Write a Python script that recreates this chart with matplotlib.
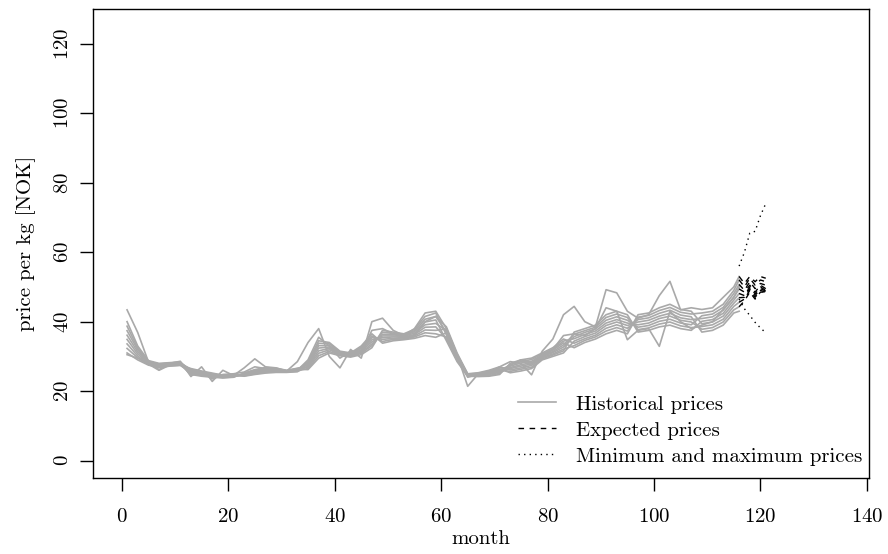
import matplotlib
matplotlib.use("Agg")
import matplotlib.pyplot as plt

plt.rcParams['font.family'] = ['cmr10', 'DejaVu Serif']
plt.rcParams['axes.formatter.use_mathtext'] = True
plt.rcParams['mathtext.fontset'] = 'cm'

# months at which historical prices are read
months = [1, 3, 5, 7, 9, 11, 13, 15, 17, 19, 21, 23, 25, 27, 29, 31, 33, 35, 37, 39,
          41, 43, 45, 47, 49, 51, 53, 55, 57, 59, 61, 63, 65, 67, 69, 71, 73, 75, 77, 79,
          81, 83, 85, 87, 89, 91, 93, 95, 97, 99, 101, 103, 105, 107, 109, 111, 113, 115, 116]

hist_0 = [31.0, 29.0, 27.5, 26.8, 27.2, 27.4, 25.5, 24.9, 24.5, 24.1, 24.3, 24.9, 25.8, 26.3, 26.3, 25.8, 26.3,
          26.2, 29.5, 31.0, 30.2, 29.8, 30.5, 32.5, 37.5, 37.0, 36.5, 37.8, 41.5, 42.5,
          36.2, 29.6, 24.6, 24.7, 25.0, 25.7, 27.2, 28.1, 28.6, 30.4, 31.8, 33.9,
          32.5, 34.0, 35.0, 36.5, 37.5, 36.5, 42.0, 42.5, 44.0, 45.0, 43.5, 43.0, 39.4, 39.9, 41.6, 45.3, 46.9]
hist_1 = [32.3, 29.6, 27.7, 27.0, 27.3, 27.5, 26.5, 25.8, 25.2, 24.6, 24.8, 24.6, 25.2, 25.7, 25.7, 25.6, 25.9,
          26.5, 30.2, 31.4, 30.4, 30.0, 30.9, 33.1, 37.0, 36.6, 36.3, 37.4, 40.7, 41.5,
          38.5, 31.0, 25.0, 25.3, 26.0, 27.0, 26.1, 26.7, 27.4, 29.6, 30.7, 32.1,
          33.1, 34.6, 35.6, 37.3, 38.3, 37.3, 41.3, 41.8, 43.2, 44.1, 42.7, 42.2, 42.5, 43.0, 45.0, 49.0, 52.0]
hist_2 = [33.6, 30.1, 27.9, 27.1, 27.5, 27.7, 24.8, 24.3, 24.0, 23.8, 24.0, 25.2, 26.2, 26.8, 26.6, 26.0, 26.6,
          26.9, 30.9, 31.9, 30.6, 30.1, 31.2, 33.6, 36.4, 36.3, 36.0, 37.1, 39.9, 40.5,
          34.5, 28.5, 24.3, 24.2, 24.3, 24.8, 28.0, 29.0, 29.5, 31.0, 32.5, 35.0,
          33.8, 35.1, 36.1, 38.1, 39.1, 38.1, 40.6, 41.1, 42.4, 43.3, 41.9, 41.4, 37.0, 37.5, 39.0, 42.5, 43.0]
hist_3 = [34.9, 30.7, 28.1, 27.3, 27.6, 27.8, 26.0, 25.4, 24.9, 24.4, 24.6, 24.3, 24.8, 25.2, 25.4, 25.4, 25.6,
          27.2, 31.6, 32.3, 30.8, 30.3, 31.6, 34.2, 35.9, 35.9, 35.8, 36.7, 39.1, 39.5,
          37.4, 30.3, 24.8, 25.0, 25.5, 26.4, 25.3, 25.8, 26.5, 29.0, 30.0, 31.0,
          34.4, 35.7, 36.7, 38.9, 39.9, 38.9, 39.9, 40.4, 41.6, 42.4, 41.1, 40.6, 40.9, 41.4, 43.3, 47.1, 49.4]
hist_4 = [36.1, 31.3, 28.2, 27.5, 27.8, 28.0, 25.0, 24.5, 24.2, 23.9, 24.1, 25.1, 26.0, 26.6, 26.4, 25.9, 26.5,
          27.5, 32.4, 32.7, 30.9, 30.5, 31.9, 34.8, 35.4, 35.6, 35.5, 36.3, 38.4, 38.5,
          35.1, 28.9, 24.4, 24.4, 24.5, 25.1, 27.6, 28.5, 29.1, 30.7, 32.1, 34.4,
          35.1, 36.3, 37.3, 39.6, 40.6, 39.6, 39.1, 39.6, 40.9, 41.6, 40.4, 39.9, 37.8, 38.3, 39.9, 43.4, 44.3]
hist_5 = [37.4, 31.9, 28.4, 27.7, 27.9, 28.1, 26.3, 25.6, 25.0, 24.5, 24.7, 24.7, 25.4, 25.9, 25.9, 25.7, 26.0,
          27.8, 33.1, 33.1, 31.1, 30.7, 32.3, 35.4, 34.9, 35.2, 35.3, 35.9, 37.6, 37.5,
          37.9, 30.6, 24.9, 25.1, 25.8, 26.7, 26.5, 27.2, 27.8, 29.9, 31.1, 32.7,
          35.7, 36.9, 37.9, 40.4, 41.4, 40.4, 38.4, 38.9, 40.1, 40.7, 39.6, 39.1, 41.7, 42.2, 44.1, 48.1, 50.7]
hist_6 = [38.7, 32.4, 28.6, 27.8, 28.1, 28.3, 25.3, 24.7, 24.3, 24.0, 24.2, 24.8, 25.6, 26.1, 26.1, 25.7, 26.2,
          28.2, 33.8, 33.6, 31.3, 30.8, 32.6, 35.9, 34.3, 34.9, 35.0, 35.6, 36.8, 36.5,
          35.6, 29.2, 24.5, 24.5, 24.8, 25.4, 26.8, 27.6, 28.2, 30.1, 31.4, 33.3,
          36.4, 37.4, 38.4, 41.2, 42.2, 41.2, 37.7, 38.2, 39.3, 39.9, 38.8, 38.3, 38.6, 39.1, 40.7, 44.4, 45.6]
hist_7 = [40.0, 33.0, 28.8, 28.0, 28.2, 28.4, 25.8, 25.2, 24.7, 24.3, 24.5, 24.4, 25.0, 25.4, 25.6, 25.5, 25.7,
          28.5, 34.5, 34.0, 31.5, 31.0, 33.0, 36.5, 33.8, 34.5, 34.8, 35.2, 36.0, 35.5,
          36.8, 29.9, 24.7, 24.8, 25.3, 26.1, 25.7, 26.3, 26.9, 29.3, 30.4, 31.6,
          37.0, 38.0, 39.0, 42.0, 43.0, 42.0, 37.0, 37.5, 38.5, 39.0, 38.0, 37.5, 40.1, 40.6, 42.4, 46.2, 48.1]
hist_8 = [43.4, 36.9, 28.5, 26.2, 28.0, 28.6, 24.2, 27.0, 22.8, 26.0, 24.5, 26.7, 29.3, 27.0, 26.7, 25.8, 28.5,
          34.0, 38.0, 30.0, 26.7, 32.0, 29.5, 40.0, 41.0, 37.5, 36.0, 38.0, 42.5, 43.0,
          38.0, 30.5, 21.4, 25.0, 25.5, 27.0, 28.5, 28.0, 24.7, 31.5, 35.0, 42.0,
          44.4, 40.0, 38.5, 49.2, 48.3, 43.0, 41.0, 42.0, 47.5, 51.6, 43.4, 44.0, 43.5, 44.0, 47.0, 50.0, 53.0]
hist_9 = [30.5, 29.5, 27.8, 26.0, 27.5, 28.2, 24.5, 25.5, 23.5, 24.8, 25.0, 25.5, 27.0, 26.5, 26.0, 25.6, 26.0,
          29.0, 35.5, 33.0, 29.5, 31.5, 31.0, 37.5, 38.0, 36.5, 35.5, 36.0, 40.0, 41.5,
          37.0, 29.5, 24.0, 24.8, 25.0, 26.0, 27.5, 29.0, 28.0, 30.0, 32.0, 36.0,
          36.5, 36.0, 38.0, 44.0, 43.0, 34.8, 37.5, 38.0, 32.9, 43.0, 40.0, 38.0, 39.0, 40.0, 43.5, 47.0, 50.0]
historical = [hist_0, hist_1, hist_2, hist_3, hist_4, hist_5, hist_6, hist_7, hist_8, hist_9]

# forecast horizon
fc_months = [116, 117, 118, 119, 120, 121]
exp_0 = [53.0, 51.0, 53.0, 51.5, 53.0, 52.5]
exp_1 = [52.0, 50.0, 52.5, 50.5, 52.0, 51.5]
exp_2 = [50.7, 49.0, 51.5, 49.5, 51.0, 50.5]
exp_3 = [49.4, 48.5, 50.5, 48.5, 50.5, 49.5]
exp_4 = [48.1, 47.5, 50.0, 48.0, 50.0, 49.0]
exp_5 = [46.9, 47.0, 49.5, 47.5, 49.5, 48.8]
exp_6 = [45.6, 46.5, 49.0, 47.0, 49.0, 48.5]
exp_7 = [44.3, 46.0, 48.5, 46.5, 48.5, 48.5]
expected = [exp_0, exp_1, exp_2, exp_3, exp_4, exp_5, exp_6, exp_7]
max_price = [56.0, 60.0, 65.5, 66.0, 70.5, 74.0]
min_price = [46.5, 43.7, 41.8, 39.8, 38.2, 36.8]

x_ticks = [0, 20, 40, 60, 80, 100, 120, 140]
y_ticks = [0, 20, 40, 60, 80, 100, 120]

FS = 15

fig = plt.figure(figsize=(8.88, 5.54), dpi=100)
ax = fig.add_axes([93/888, 1-478/554, (869-93)/888, (478-9)/554])

gray = '#A9A9A9'
for i, s in enumerate(historical):
    ax.plot(months, s, color=gray, lw=1.2, label='Historical prices' if i == 0 else None)
for i, s in enumerate(expected):
    ax.plot(fc_months, s, color='black', lw=1.0, dashes=(4, 4),
            label='Expected prices' if i == 0 else None)
ax.plot(fc_months, max_price, color='black', lw=1.0, dashes=(1, 3),
        label='Minimum and maximum prices')
ax.plot(fc_months, min_price, color='black', lw=1.0, dashes=(1, 3))

ax.set_xlim(-5.4, 140.4)
ax.set_ylim(-5, 130)
ax.set_xticks(x_ticks)
ax.set_yticks(y_ticks)
ax.tick_params(direction='out', length=9.4, width=1.0, labelsize=FS, pad=12)
ax.tick_params(axis='y', pad=6)
for lab in ax.get_yticklabels():
    lab.set_rotation(90)
    lab.set_va('center')
for sp in ax.spines.values():
    sp.set_linewidth(1.0)

ax.set_xlabel('month', fontsize=FS, labelpad=3)
ax.set_ylabel('price per kg [NOK]', fontsize=FS, labelpad=13)

leg = ax.legend(loc='upper left', bbox_to_anchor=(518/888, 1-395/554),
                bbox_transform=fig.transFigure, frameon=False, fontsize=FS,
                handlelength=1.8, handletextpad=1.0, labelspacing=0.36, borderpad=0,
                borderaxespad=0)

fig.savefig('out.png', dpi=100)
